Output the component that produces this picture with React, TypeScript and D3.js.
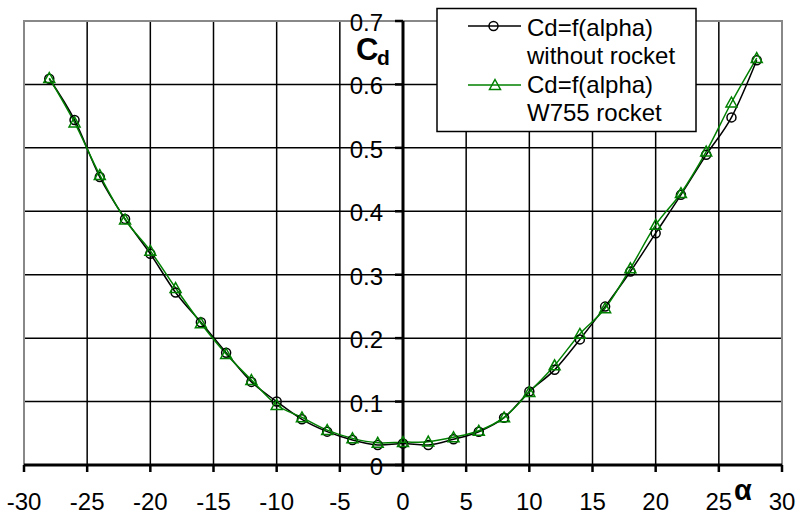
import React from "react";
import * as d3 from "d3";

const alpha = [-28, -26, -24, -22, -20, -18, -16, -14, -12, -10, -8, -6, -4, -2, 0, 2, 4, 6, 8, 10, 12, 14, 16, 18, 20, 22, 24, 26, 28];
const cdWithout = [0.609, 0.544, 0.454, 0.388, 0.333, 0.272, 0.225, 0.177, 0.131, 0.1, 0.072, 0.0526, 0.0394, 0.0315, 0.034, 0.0315, 0.0405, 0.0525, 0.0746, 0.116, 0.15, 0.198, 0.2497, 0.305, 0.3655, 0.4259, 0.489, 0.548, 0.638];
const cdRocket = [0.61, 0.54, 0.457, 0.387, 0.3375, 0.279, 0.2235, 0.175, 0.134, 0.0946, 0.075, 0.055, 0.042, 0.035, 0.036, 0.0368, 0.0437, 0.054, 0.075, 0.115, 0.157, 0.2066, 0.247, 0.31, 0.3785, 0.4285, 0.494, 0.5715, 0.6415];
const xTicks = [-30, -25, -20, -15, -10, -5, 0, 5, 10, 15, 20, 25, 30];
const yTicks = [0, 0.1, 0.2, 0.3, 0.4, 0.5, 0.6, 0.7];
const legendLabels = [["Cd=f(alpha)", "without rocket"], ["Cd=f(alpha)", "W755 rocket"]];

const W = 798, H = 515;
const L = 24, R = 782, T = 21, B = 465;
const GREEN = "#008000";
const FONT = "'Liberation Sans', Arial, sans-serif";

export default function App() {
  const x = d3.scaleLinear().domain([-30, 30]).range([L, R]);
  const y = d3.scaleLinear().domain([0, 0.7]).range([B, T]);
  const line = (vals: number[]) =>
    d3.line<number>().x((_, i) => x(alpha[i])).y((v) => y(v)).curve(d3.curveCatmullRom.alpha(0))(vals) || "";
  const tri = (cx: number, cy: number, s = 5.5) =>
    `M${cx},${cy - s}L${cx + s},${cy + s * 0.8}L${cx - s},${cy + s * 0.8}Z`;

  const x0 = x(0), y0 = y(0);
  const lgX = 437, lgY = 8.5, lgW = 259, lgH = 123;
  const rowBase = [36, 64, 93, 121];

  return (
    <svg width={W} height={H} style={{ position: "absolute", left: 0, top: 0, background: "#fff" }} fontFamily={FONT}>
      <rect x={0} y={0} width={W} height={H} fill="#fff" />
      {/* grid */}
      {xTicks.map((t) => (
        <line key={"gx" + t} x1={x(t)} x2={x(t)} y1={T} y2={B} stroke="#000" strokeWidth={1.5} />
      ))}
      {yTicks.map((t) => (
        <line key={"gy" + t} x1={L} x2={R} y1={y(t)} y2={y(t)} stroke="#000" strokeWidth={1.5} />
      ))}
      {/* plot border */}
      <path d={`M${L},${B}V${T}H${R}V${B}`} fill="none" stroke="#888" strokeWidth={2} />
      {/* y tick labels */}
      {yTicks.map((t) => (
        <text key={"yl" + t} x={383} y={y(t) + 10} textAnchor="end" fontSize={24} fill="#000">
          {t === 0 ? "0" : d3.format(".1f")(t)}
        </text>
      ))}
      {/* x tick labels */}
      {xTicks.map((t) => (
        <text key={"xl" + t} x={x(t)} y={510} textAnchor="middle" fontSize={24} fill="#000">
          {t}
        </text>
      ))}
      {/* axes */}
      <line x1={L} x2={R} y1={y0} y2={y0} stroke="#000" strokeWidth={3} />
      <line x1={x0} x2={x0} y1={T} y2={B} stroke="#000" strokeWidth={3} />
      {xTicks.map((t) => (
        <line key={"xt" + t} x1={x(t)} x2={x(t)} y1={y0} y2={y0 + 7} stroke="#000" strokeWidth={2.5} />
      ))}
      {yTicks.map((t) => (
        <line key={"yt" + t} x1={x0 - 8} x2={x0} y1={y(t)} y2={y(t)} stroke="#000" strokeWidth={2.5} />
      ))}
      {/* series */}
      <path d={line(cdWithout)} fill="none" stroke="#000" strokeWidth={1.5} />
      <path d={line(cdRocket)} fill="none" stroke={GREEN} strokeWidth={1.5} />
      {cdWithout.map((v, i) => (
        <circle key={"c" + i} cx={x(alpha[i])} cy={y(v)} r={4.5} fill="none" stroke="#000" strokeWidth={1.5} />
      ))}
      {cdRocket.map((v, i) => (
        <path key={"t" + i} d={tri(x(alpha[i]), y(v))} fill="none" stroke={GREEN} strokeWidth={1.5} />
      ))}
      {/* axis titles */}
      <text x={356} y={60} fontSize={31} fontWeight="bold" fill="#000">C</text>
      <text x={377} y={65} fontSize={21} fontWeight="bold" fill="#000">d</text>
      <text x={734} y={500} fontSize={29} fontWeight="bold" fill="#000">α</text>
      {/* legend */}
      <rect x={lgX} y={lgY} width={lgW} height={lgH} fill="#fff" stroke="#000" strokeWidth={1.5} />
      <line x1={468} x2={521} y1={26} y2={26} stroke="#000" strokeWidth={1.5} />
      <circle cx={493.5} cy={26} r={4.5} fill="none" stroke="#000" strokeWidth={1.5} />
      <line x1={468} x2={521} y1={85} y2={85} stroke={GREEN} strokeWidth={1.5} />
      <path d={tri(495, 85)} fill="none" stroke={GREEN} strokeWidth={1.5} />
      {legendLabels.flat().map((s, i) => (
        <text key={"lg" + i} x={527} y={rowBase[i]} fontSize={24} fill="#000">{s}</text>
      ))}
    </svg>
  );
}
